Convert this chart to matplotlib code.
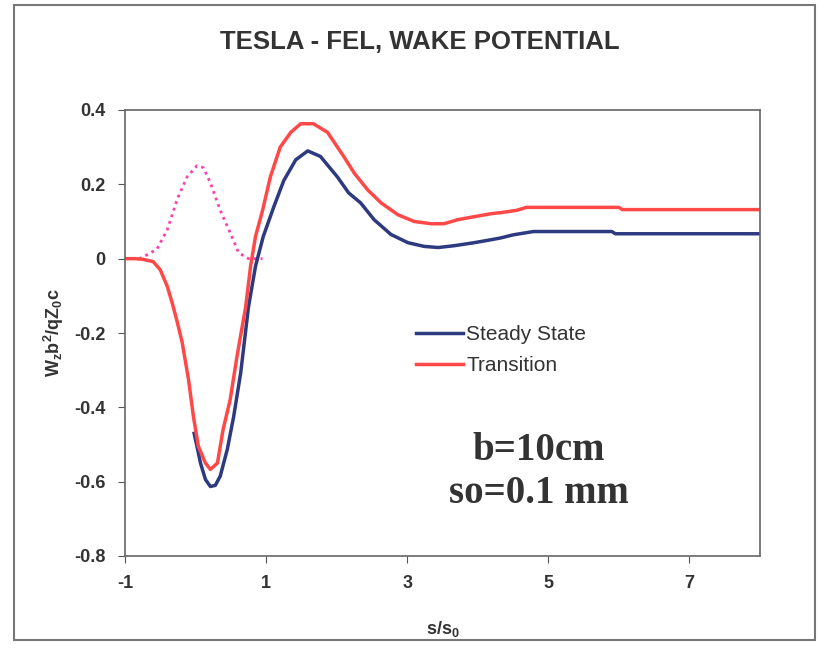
import matplotlib
matplotlib.use("Agg")
import matplotlib.pyplot as plt
from matplotlib.patches import Rectangle

# transition curve (red)
trans_s = [-1.0, -0.85, -0.74, -0.6, -0.5, -0.40, -0.33, -0.26, -0.19, -0.10, -0.03, 0.04,
           0.14, 0.21, 0.31, 0.39, 0.49, 0.59, 0.71, 0.78, 0.85, 0.95, 1.06, 1.20, 1.35,
           1.49, 1.67, 1.87, 2.10, 2.25, 2.44, 2.63, 2.87, 3.10, 3.34, 3.52, 3.72, 3.95,
           4.19, 4.33, 4.55, 4.69, 5.5, 6.0, 6.05, 7.0, 8.0]
trans_w = [0.0, 0.0, -0.002, -0.008, -0.03, -0.075, -0.12, -0.17, -0.225, -0.325, -0.425,
           -0.505, -0.55, -0.567, -0.55, -0.46, -0.38, -0.26, -0.13, -0.02, 0.06, 0.13,
           0.22, 0.30, 0.34, 0.363, 0.363, 0.34, 0.275, 0.23, 0.185, 0.15, 0.118, 0.10,
           0.094, 0.094, 0.105, 0.113, 0.121, 0.124, 0.130, 0.138, 0.138, 0.138, 0.132,
           0.132, 0.132]

# steady state curve (blue)
steady_s = [-0.02, 0.02, 0.07, 0.14, 0.21, 0.28, 0.35, 0.45, 0.54, 0.64, 0.75, 0.85, 0.96,
            1.11, 1.25, 1.42, 1.59, 1.77, 2.01, 2.17, 2.34, 2.53, 2.77, 3.01, 3.24, 3.44,
            3.67, 3.95, 4.19, 4.33, 4.50, 4.66, 4.79, 5.5, 5.9, 5.95, 7.0, 8.0]
steady_w = [-0.47, -0.505, -0.55, -0.594, -0.613, -0.61, -0.585, -0.513, -0.425, -0.307,
            -0.13, -0.02, 0.06, 0.14, 0.21, 0.266, 0.29, 0.275, 0.22, 0.177, 0.15, 0.105,
            0.065, 0.043, 0.033, 0.03, 0.035, 0.043, 0.051, 0.056, 0.064, 0.069, 0.073,
            0.073, 0.073, 0.067, 0.067, 0.067]

# bunch shape (pink dotted)
bunch_s = [-0.8, -0.74, -0.55, -0.40, -0.26, -0.12, 0.02, 0.11, 0.21, 0.35, 0.49, 0.61,
           0.75, 0.95]
bunch_w = [0.0, 0.005, 0.025, 0.078, 0.16, 0.22, 0.25, 0.245, 0.204, 0.13, 0.07, 0.016,
           0.0, 0.0]

x_ticks = [-1, 1, 3, 5, 7]
y_ticks = [-0.8, -0.6, -0.4, -0.2, 0, 0.2, 0.4]
y_tick_labels = ["-0.8", "-0.6", "-0.4", "-0.2", "0", "0.2", "0.4"]

plt.rcParams["font.family"] = ["Liberation Sans", "DejaVu Sans"]
plt.rcParams["axes.unicode_minus"] = False
text_col = "#333333"

fig = plt.figure(figsize=(8.2, 6.5), dpi=100)
fig.patches.append(Rectangle((14 / 820, 10 / 650), 801 / 820, 635 / 650,
                             transform=fig.transFigure, fill=False,
                             edgecolor="#777777", linewidth=1.5))
ax = fig.add_axes([125 / 820, 94 / 650, 635 / 820, 446 / 650])

ax.plot(bunch_s, bunch_w, color="#ff3fa8", linestyle=(0, (1.0, 1.5)), linewidth=2.0)
ax.plot(steady_s, steady_w, color="#2e3a80", linewidth=2.5, label="Steady State")
ax.plot(trans_s, trans_w, color="#ff4848", linewidth=2.5, label="Transition")

ax.set_xlim(-1, 8)
ax.set_ylim(-0.8, 0.4)
ax.set_xticks(x_ticks)
ax.set_yticks(y_ticks)
ax.set_yticklabels(y_tick_labels)
ax.tick_params(direction="out", length=5, color="#555555", labelsize=13,
               labelcolor=text_col, pad=9)
for lab in ax.get_xticklabels() + ax.get_yticklabels():
    lab.set_fontweight("bold")
for sp in ax.spines.values():
    sp.set_color("#666666")
    sp.set_linewidth(1.2)

ax.set_xlabel("s/s$_\\mathregular{0}$", fontsize=13, fontweight="bold",
              color=text_col, labelpad=19)
ax.set_ylabel("W$_\\mathregular{z}$b$^\\mathregular{2}$/qZ$_\\mathregular{0}$c",
              fontsize=13, fontweight="bold", color=text_col, labelpad=6)
fig.text(0.512, 0.936, "TESLA - FEL, WAKE POTENTIAL", ha="center", va="center",
         fontsize=18.5, fontweight="bold", color=text_col)

ax.legend(loc="upper left", bbox_to_anchor=(0.429, 0.56), frameon=False,
          fontsize=15, handlelength=2.25, handletextpad=0.15, labelspacing=0.6,
          labelcolor=text_col)

ax.text(4.86, -0.574, "b=10cm\nso=0.1 mm", ha="center", va="center", fontsize=28,
        fontweight="bold", family="Liberation Serif", color=text_col, linespacing=1.2)

plt.savefig("out.png", dpi=100)
